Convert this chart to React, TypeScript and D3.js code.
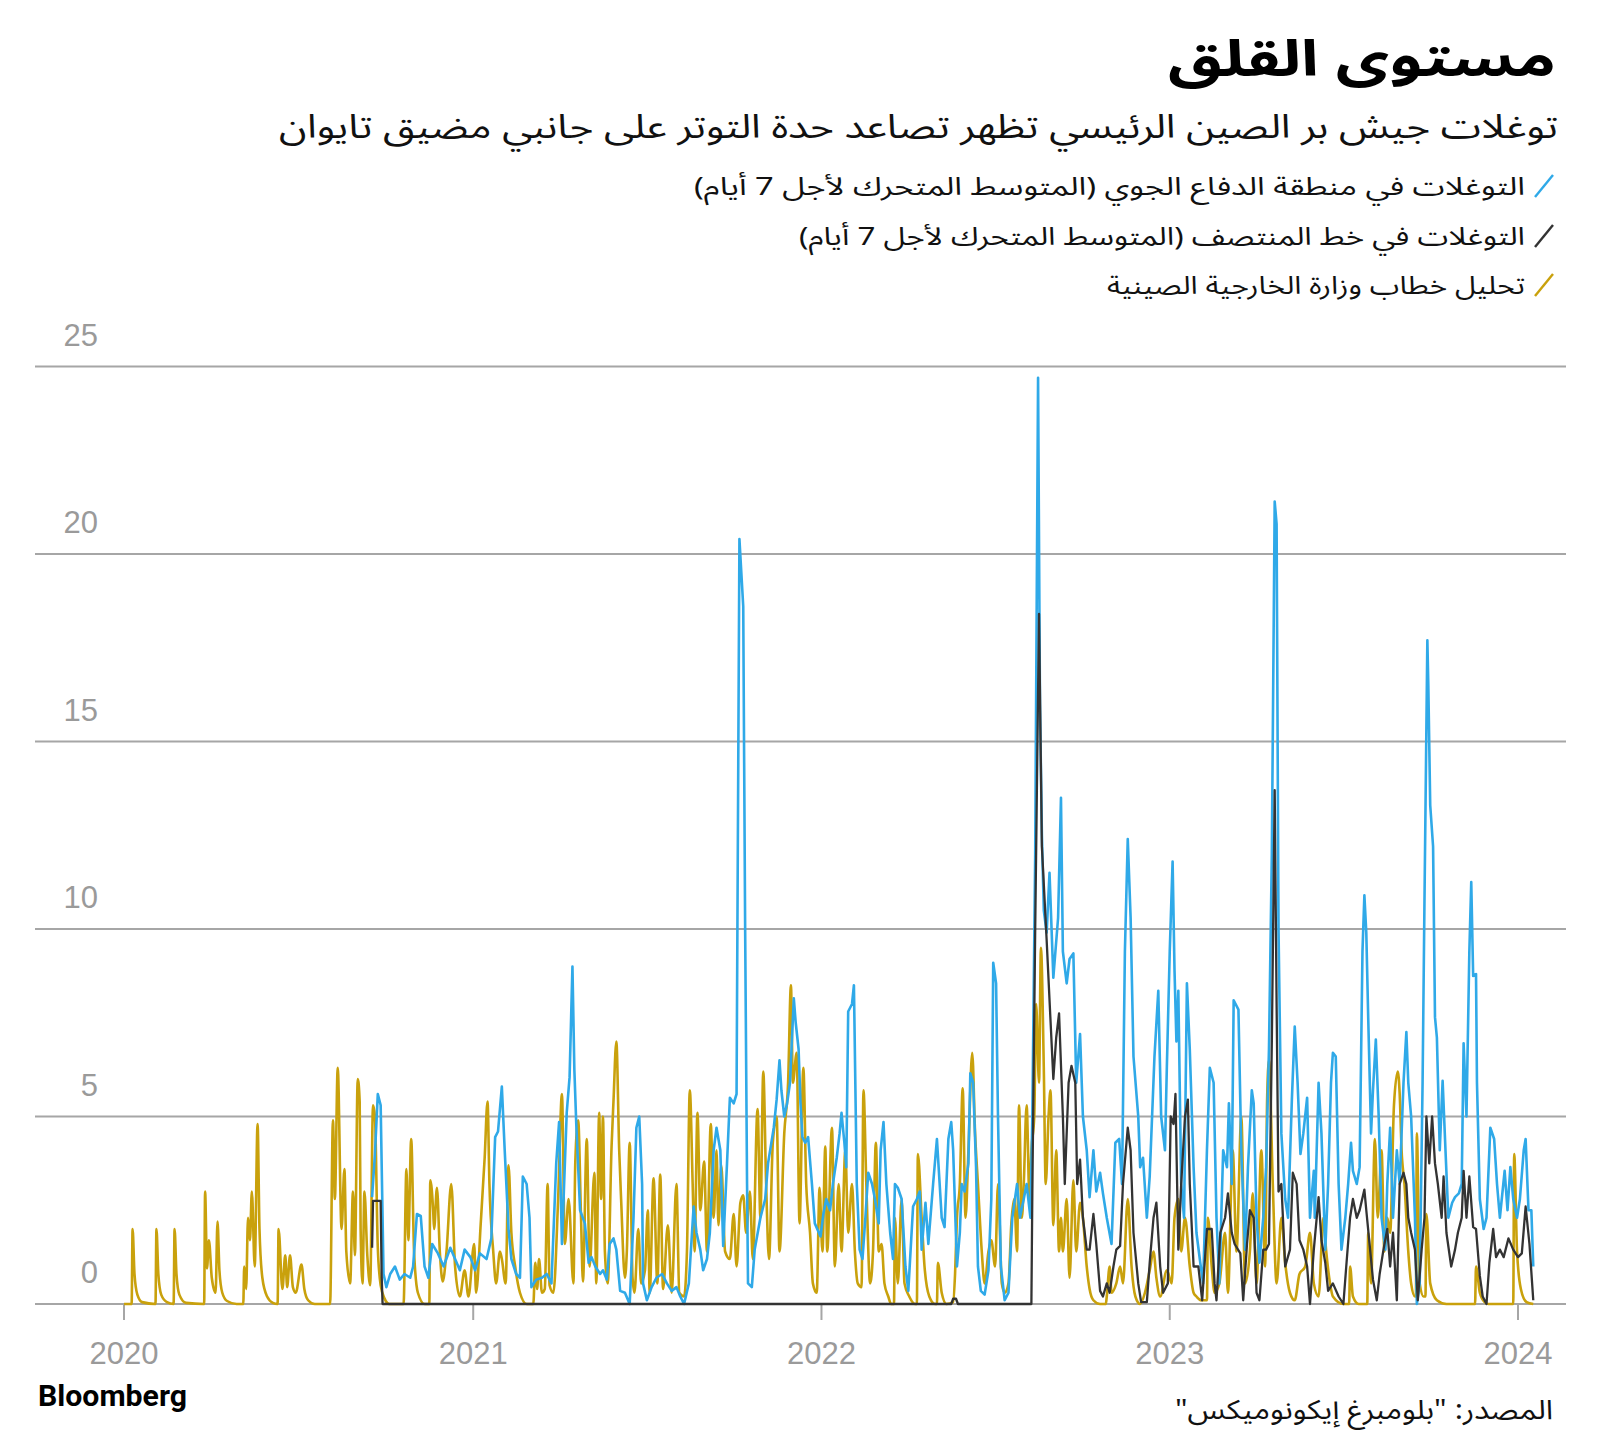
import React from 'react';
import * as d3 from 'd3';

// ---- Data (day offset from 2020-01-01, value) ----
const yearTicks = [2020, 2021, 2022, 2023, 2024];
const yTicks = [0, 5, 10, 15, 20, 25];

const seriesNames = [
  'التوغلات في منطقة الدفاع الجوي (المتوسط المتحرك لأجل 7 أيام)',
  'التوغلات في خط المنتصف (المتوسط المتحرك لأجل 7 أيام)',
  'تحليل خطاب وزارة الخارجية الصينية',
];

const speechSeries: [number, number][] = [
[0,0],[8,0],[9,2.0],[11,0.8],[14,0.25],[19,0.05],[33,0],[34,2.0],[36,0.8],[39,0.25],[45,0.05],[52,0],[53,2.0],[55,0.8],[58,0.25],[65,0.03],[84,0],[85,3.0],[87,0.95],[89,1.7],[92,0.7],[96,0.3],[98,2.2],[100,0.9],[103,0.3],[108,0.08],[118,0],[125,0],[126,1.0],[128,0.4],[130,2.3],[132,1.7],[134,3.0],[137,1.0],[140,4.8],[142,2.0],[145,0.7],[150,0.2],[156,0.03],[161,0],[162,2.0],[166,0.4],[169,1.3],[171,0.45],[174,1.3],[177,0.45],[180,0.3],[186,1.05],[189,0.4],[193,0.1],[200,0],[216,0],[219,4.9],[221,2.8],[224,6.3],[228,2.0],[231,3.6],[233,1.4],[237,0.55],[240,3.0],[242,1.3],[245,6.0],[247,5.4],[248,2.0],[250,0.55],[252,3.0],[255,1.3],[258,0.5],[261,5.3],[263,5.0],[266,1.5],[269,0.5],[273,0.15],[278,0],[293,0],[296,3.6],[298,1.7],[301,4.4],[304,1.4],[308,0.3],[315,0],[320,0],[321,3.3],[324,2.5],[325,2.0],[328,3.1],[331,1.4],[334,0.6],[338,1.4],[343,3.2],[347,1.0],[352,0.2],[357,0.9],[361,0.2],[367,1.6],[369,0.3],[374,2.2],[378,3.9],[381,5.4],[383,3.2],[387,1.4],[390,0.55],[394,1.4],[396,1.2],[400,0.55],[403,3.7],[406,1.9],[410,1.0],[415,0.3],[422,0],[429,0],[431,1.1],[433,0.4],[435,1.2],[438,0.3],[441,0.4],[444,3.2],[446,0.5],[450,0.3],[455,2.8],[459,5.6],[462,1.6],[466,2.8],[471,0.55],[473,3.8],[476,4.9],[479,2.3],[481,0.6],[485,4.4],[488,1.0],[493,3.5],[495,0.55],[498,5.1],[500,2.8],[502,5.0],[504,1.4],[507,0.55],[511,4.2],[513,5.4],[516,7.0],[519,4.1],[521,2.8],[525,0.7],[527,1.4],[530,4.3],[533,0.7],[535,0.3],[539,2.0],[542,0.55],[546,0.9],[549,2.5],[551,0.3],[555,3.35],[559,0.55],[562,3.45],[565,0.4],[570,2.1],[574,0.3],[579,3.2],[582,0.3],[587,0.2],[590,1.4],[593,5.7],[596,3.2],[598,1.4],[601,5.1],[604,2.5],[608,3.8],[611,1.4],[615,4.8],[618,2.3],[621,4.1],[623,2.1],[626,3.7],[630,1.4],[635,1.2],[639,2.4],[642,1.0],[646,2.7],[649,2.9],[652,1.9],[656,3.0],[659,1.2],[664,5.2],[667,2.3],[670,6.2],[673,3.2],[676,1.2],[680,4.3],[684,5.0],[687,1.4],[692,4.55],[696,5.9],[699,8.5],[701,5.9],[705,6.7],[708,2.15],[712,6.3],[715,3.2],[719,1.9],[722,0.55],[726,0.3],[729,3.1],[732,1.4],[735,4.2],[737,1.4],[742,4.7],[745,1.0],[749,3.2],[752,1.4],[756,4.1],[759,1.9],[763,3.2],[766,1.4],[769,0.55],[773,0.45],[775,5.7],[778,3.2],[782,0.55],[785,1.4],[788,4.3],[791,1.4],[794,1.6],[797,0.55],[801,0.2],[804,0],[807,0],[808,2.3],[811,0.55],[815,2.8],[818,0.55],[823,0.2],[829,0],[831,0],[832,4.0],[836,2.3],[839,1.0],[844,0.2],[850,0],[852,0],[853,1.1],[857,0.3],[862,0],[869,0.05],[871,0.8],[873,2.3],[876,3.2],[879,5.75],[882,2.3],[885,4.1],[889,6.7],[892,4.55],[895,3.2],[899,1.4],[902,0.55],[906,1.4],[909,1.7],[913,1.0],[916,3.2],[920,0.55],[923,0.3],[927,0.55],[930,2.15],[933,2.8],[936,1.4],[938,5.3],[941,2.3],[943,3.2],[946,5.3],[949,2.8],[951,4.1],[954,5.0],[956,8.0],[959,5.9],[961,9.5],[964,6.3],[966,3.2],[969,5.0],[971,5.7],[974,2.1],[977,4.1],[980,1.4],[982,2.3],[984,1.4],[988,2.8],[991,0.7],[995,3.3],[998,1.4],[1002,2.7],[1005,2.3],[1009,1.0],[1012,0.4],[1016,0.1],[1023,0],[1029,0],[1030,0.2],[1033,1.0],[1035,0.3],[1040,0.55],[1044,1.0],[1047,0.55],[1052,2.8],[1056,1.0],[1060,0.2],[1065,0],[1070,0.3],[1075,0.9],[1079,1.4],[1082,0.7],[1086,0.2],[1093,0.9],[1098,0.55],[1101,2.3],[1105,2.8],[1108,1.4],[1112,2.3],[1117,1.0],[1121,0.3],[1124,0.2],[1129,0.1],[1135,0.1],[1136,2.3],[1140,1.0],[1143,0.3],[1148,0.55],[1154,1.9],[1157,0.3],[1162,4.1],[1166,1.4],[1171,5.0],[1175,0.55],[1180,1.4],[1183,2.95],[1187,0.55],[1192,4.1],[1196,1.0],[1198,5.4],[1200,6.5],[1204,3.2],[1208,0.55],[1213,2.3],[1217,1.1],[1222,0.3],[1227,0.1],[1232,0.8],[1238,1.0],[1243,1.9],[1247,0.55],[1252,0.2],[1257,2.3],[1260,1.4],[1264,0.55],[1267,0.2],[1278,0],[1284,0],[1285,1.0],[1288,0.2],[1294,0],[1303,0],[1304,1.9],[1307,0.55],[1311,4.4],[1314,2.3],[1318,4.1],[1321,1.4],[1324,2.3],[1327,1.9],[1331,5.3],[1335,6.2],[1337,5.6],[1339,4.1],[1342,3.2],[1346,1.4],[1349,0.55],[1353,0.2],[1354,0.2],[1355,4.55],[1358,0.55],[1362,0.2],[1364,0.2],[1365,2.4],[1369,0.55],[1376,0.1],[1386,0],[1416,0],[1417,1.0],[1421,0.3],[1426,0.05],[1430,0],[1456,0],[1457,4.0],[1460,1.4],[1464,0.4],[1470,0.05],[1477,0]
];

const adizSeries: [number, number][] = [
[260,2.85],[263,4.0],[266,5.6],[269,5.3],[272,0.8],[275,0.45],[279,0.8],[284,1.0],[289,0.65],[294,0.8],[300,0.7],[303,1.0],[307,2.4],[311,2.35],[315,1.0],[319,0.7],[323,1.6],[329,1.35],[335,1.0],[342,1.5],[347,1.2],[352,0.9],[357,1.45],[363,1.25],[368,0.9],[373,1.35],[380,1.2],[385,1.75],[389,4.45],[392,4.6],[396,5.8],[399,4.1],[403,2.0],[406,1.2],[411,0.8],[415,0.7],[418,3.4],[422,3.2],[425,2.3],[427,0.45],[432,0.65],[438,0.7],[443,0.8],[448,0.55],[453,3.75],[456,4.85],[459,1.6],[461,3.0],[464,5.1],[467,6.05],[470,9.0],[472,6.25],[474,4.8],[478,2.5],[483,2.15],[487,1.1],[490,1.25],[494,1.0],[499,0.8],[502,0.9],[506,0.65],[509,1.6],[513,1.75],[516,1.45],[520,0.35],[525,0.3],[530,0],[534,2.3],[537,4.7],[540,5.0],[543,3.2],[544,0.55],[548,0.1],[553,0.45],[558,0.7],[564,0.8],[569,0.55],[574,0.35],[579,0.45],[583,0.2],[587,0],[592,0.55],[597,2.6],[600,1.9],[604,1.45],[607,0.9],[611,1.2],[614,1.9],[618,4.1],[621,4.7],[625,4.1],[628,1.55],[632,3.75],[635,5.5],[639,5.35],[642,5.6],[645,20.4],[647,19.5],[649,18.6],[651,10],[653,3.2],[654,0.55],[658,0.45],[661,1.45],[667,2.3],[672,2.8],[675,3.75],[681,4.7],[684,5.45],[687,6.5],[689,5.7],[692,5.0],[695,5.35],[698,5.9],[702,8.15],[704,7.5],[707,6.8],[709,5.35],[711,4.45],[714,4.3],[717,4.45],[721,3.2],[724,2.15],[730,1.8],[733,2.4],[736,2.8],[740,2.5],[743,3.2],[747,3.9],[750,4.55],[752,5.1],[755,4.3],[757,3.65],[759,7.8],[763,8.0],[765,8.5],[768,3.2],[771,1.45],[774,1.2],[777,2.3],[780,3.5],[784,3.2],[787,2.8],[791,2.15],[793,4.1],[796,4.85],[799,3.2],[803,1.9],[806,1.2],[808,3.2],[811,3.1],[815,2.8],[819,1.0],[822,0.35],[827,2.6],[831,2.8],[834,3.0],[836,1.45],[840,2.7],[843,1.6],[848,3.2],[852,4.4],[857,2.3],[860,2.05],[864,4.4],[867,4.85],[869,4.1],[873,1.0],[876,1.9],[878,3.2],[881,3.0],[885,3.75],[887,6.15],[890,5.9],[893,3.65],[895,1.0],[898,0.35],[902,0.25],[906,0.9],[909,2.8],[911,9.1],[914,8.55],[916,5.0],[919,1.0],[923,0.1],[927,0.3],[931,2.3],[936,3.2],[939,2.3],[943,2.8],[946,3.2],[950,2.3],[952,5.0],[955,12.0],[958,24.7],[960,16.0],[962,12.5],[964,10.5],[967,9.9],[970,11.5],[974,8.7],[979,10.3],[982,13.5],[984,9.4],[988,8.55],[991,9.2],[995,9.35],[998,5.9],[1002,7.2],[1005,5.0],[1009,4.1],[1012,2.85],[1016,4.1],[1019,3.0],[1023,3.5],[1026,2.95],[1030,2.3],[1035,1.6],[1039,4.3],[1043,4.4],[1046,3.2],[1049,9.4],[1052,12.4],[1055,10.3],[1058,6.6],[1063,5.0],[1065,3.65],[1068,3.9],[1072,2.3],[1075,3.4],[1080,6.6],[1084,8.35],[1087,5.0],[1091,4.1],[1093,6.35],[1096,9.4],[1099,11.8],[1101,8.9],[1103,7.0],[1105,8.35],[1108,3.2],[1111,2.3],[1114,8.55],[1117,6.8],[1121,3.65],[1124,1.9],[1128,1.1],[1131,0.55],[1135,4.1],[1138,6.3],[1142,5.9],[1145,2.3],[1148,0.55],[1152,4.1],[1156,3.65],[1158,5.35],[1161,3.2],[1163,8.1],[1168,7.85],[1171,4.1],[1175,1.45],[1178,3.65],[1182,5.7],[1184,5.35],[1187,2.3],[1190,1.1],[1194,2.3],[1197,3.65],[1200,6.8],[1203,12.0],[1206,21.4],[1208,20.8],[1210,10.0],[1213,4.55],[1217,2.8],[1220,2.3],[1224,5.45],[1227,7.4],[1230,5.9],[1233,4.0],[1236,4.55],[1240,5.5],[1243,2.3],[1247,3.55],[1248,2.3],[1252,5.9],[1255,4.55],[1259,1.45],[1262,3.2],[1265,5.9],[1267,6.7],[1270,6.6],[1273,3.2],[1276,1.45],[1280,2.3],[1283,3.2],[1286,4.3],[1288,3.55],[1292,3.2],[1295,3.65],[1298,9.4],[1300,10.9],[1302,9.9],[1304,7.65],[1307,4.55],[1309,5.7],[1312,7.05],[1315,5.0],[1318,2.3],[1322,1.45],[1324,3.2],[1327,4.7],[1330,2.3],[1334,4.1],[1337,3.2],[1341,5.9],[1344,7.25],[1346,5.9],[1349,5.0],[1353,2.3],[1355,0],[1358,0.55],[1361,5.9],[1363,10.8],[1366,17.7],[1367,16.5],[1369,13.3],[1372,12.2],[1374,7.65],[1376,7.1],[1379,4.1],[1382,5.95],[1385,4.1],[1388,2.3],[1392,2.7],[1395,2.85],[1399,2.95],[1402,3.2],[1404,6.95],[1407,5.0],[1410,9.4],[1412,11.25],[1414,8.75],[1417,8.8],[1418,5.9],[1421,2.8],[1425,2.0],[1428,2.3],[1432,4.7],[1436,4.4],[1439,3.2],[1442,2.3],[1447,3.55],[1450,2.5],[1453,3.65],[1456,2.8],[1460,2.3],[1463,2.8],[1467,4.1],[1469,4.4],[1472,2.5],[1475,2.5],[1477,1.0]
];

const medianSeries: [number, number][] = [
[260,1.5],[261,2.75],[269,2.75],[270,0.8],[271,0],[867,0],[869,0.14],[872,0.14],[874,0],[951,0],[952,3.0],[955,10.0],[959,18.4],[962,12.2],[967,9.7],[974,6.0],[977,7.1],[980,7.75],[984,5.0],[986,3.2],[990,5.9],[993,6.35],[997,5.9],[999,3.2],[1002,3.85],[1005,2.3],[1009,1.45],[1012,1.45],[1016,2.4],[1019,1.6],[1023,0.35],[1026,0.2],[1030,0.55],[1033,0.3],[1037,1.0],[1040,1.45],[1044,1.55],[1047,3.2],[1052,4.7],[1055,4.1],[1058,1.9],[1063,0.55],[1066,0.05],[1072,0.05],[1075,1.1],[1079,2.3],[1082,2.7],[1086,1.0],[1089,0.3],[1094,0.55],[1097,5.0],[1100,4.8],[1102,5.6],[1105,1.45],[1108,3.2],[1112,5.0],[1115,5.45],[1117,3.2],[1121,1.0],[1126,1.0],[1130,0.1],[1135,2.0],[1140,2.0],[1143,0.55],[1145,0.1],[1149,1.9],[1154,2.3],[1157,2.95],[1161,1.9],[1164,1.6],[1170,1.35],[1173,0.1],[1177,1.6],[1180,2.5],[1184,2.3],[1187,0.3],[1190,0.1],[1194,1.45],[1197,1.45],[1200,1.6],[1203,7.0],[1206,13.7],[1208,8.0],[1210,3.0],[1213,3.2],[1217,1.0],[1222,1.45],[1225,3.5],[1229,3.2],[1232,1.7],[1236,1.45],[1240,1.0],[1243,0],[1247,1.45],[1252,2.85],[1255,1.7],[1259,1.1],[1262,0.35],[1267,0.55],[1273,0.2],[1278,0],[1281,1.0],[1285,2.3],[1288,2.8],[1292,2.3],[1295,2.5],[1300,3.05],[1302,2.5],[1306,1.45],[1309,0.65],[1313,0.1],[1316,0.8],[1320,1.45],[1324,2.0],[1327,1.0],[1330,1.9],[1334,0.1],[1337,3.2],[1341,3.5],[1344,3.2],[1346,2.3],[1349,1.9],[1353,1.45],[1356,0.1],[1360,1.45],[1363,2.3],[1365,5.0],[1368,3.75],[1371,5.0],[1374,3.75],[1377,3.2],[1381,2.3],[1383,3.4],[1386,1.9],[1391,1.0],[1395,1.45],[1398,1.9],[1402,2.3],[1404,3.55],[1407,2.3],[1410,3.4],[1414,2.05],[1417,2.0],[1421,0.75],[1424,0.2],[1428,0],[1431,1.1],[1435,2.0],[1438,1.25],[1442,1.45],[1446,1.25],[1451,1.75],[1456,1.45],[1461,1.25],[1465,1.35],[1469,2.6],[1473,1.6],[1477,0.1]
];

const BLUE = '#2fa9e8';
const BLACK = '#333333';
const GOLD = '#c9a10c';
const GRID = '#a6a6a6';
const LABEL = '#9a9a9a';
const AR_FONT = '"Noto Sans Arabic", "DejaVu Sans", sans-serif';
const NUM_FONT = '"Liberation Sans", Arial, sans-serif';

const START = Date.UTC(2020, 0, 1);
const toDate = (d: number) => new Date(START + d * 86400000);

export default function App() {
  const W = 1600, H = 1442;
  const x = d3.scaleUtc()
    .domain([new Date(Date.UTC(2020, 0, 1)), new Date(Date.UTC(2024, 0, 1))])
    .range([124, 1518]);
  const y = d3.scaleLinear().domain([0, 25]).range([1304, 366.5]);
  const lineLin = d3.line<[number, number]>()
    .x(p => x(toDate(p[0])))
    .y(p => y(p[1]));
  const lineSmooth = d3.line<[number, number]>()
    .x(p => x(toDate(p[0])))
    .y(p => y(p[1]))
    .curve(d3.curveMonotoneX);

  const gridX0 = 35, gridX1 = 1566;
  const legendRows = [
    { name: seriesNames[0], color: BLUE, yb: 195, len: 831 },
    { name: seriesNames[1], color: BLACK, yb: 245, len: 726 },
    { name: seriesNames[2], color: GOLD, yb: 294, len: 418 },
  ];

  return (
    <svg width={W} height={H} style={{ position: 'absolute', left: 0, top: 0, background: '#fff' }}>
      <rect x={0} y={0} width={W} height={H} fill="#fff" />
      {/* Title */}
      <text x={1556} y={76} fontFamily={AR_FONT} fontWeight="bold" fontSize={50}
        style={{ direction: 'rtl' }} textAnchor="start" fill="#000"
        textLength={388} lengthAdjust="spacingAndGlyphs">مستوى القلق</text>
      <text x={1558} y={138} fontFamily={AR_FONT} fontSize={33}
        style={{ direction: 'rtl' }} textAnchor="start" fill="#111"
        textLength={1279} lengthAdjust="spacingAndGlyphs">توغلات جيش بر الصين الرئيسي تظهر تصاعد حدة التوتر على جانبي مضيق تايوان</text>

      {/* Legend */}
      {legendRows.map((r, i) => (
        <g key={i}>
          <line x1={1535} y1={r.yb + 2} x2={1553} y2={r.yb - 20} stroke={r.color} strokeWidth={2.4} />
          <text x={1525} y={r.yb} fontFamily={AR_FONT} fontSize={25}
            style={{ direction: 'rtl' }} textAnchor="start" fill="#111"
            textLength={r.len} lengthAdjust="spacingAndGlyphs">{r.name}</text>
        </g>
      ))}

      {/* Grid */}
      {yTicks.map(v => (
        <g key={v}>
          <line x1={gridX0} x2={gridX1} y1={y(v)} y2={y(v)} stroke={GRID} strokeWidth={2} />
          <text x={98} y={y(v) - 21} textAnchor="end" fontFamily={NUM_FONT} fontSize={31} fill={LABEL}>{v}</text>
        </g>
      ))}

      {/* X ticks */}
      {yearTicks.map(yr => {
        const xp = x(new Date(Date.UTC(yr, 0, 1)));
        return (
          <g key={yr}>
            <line x1={xp} x2={xp} y1={y(0)} y2={y(0) + 16} stroke={GRID} strokeWidth={2} />
            <text x={xp} y={1364} textAnchor="middle" fontFamily={NUM_FONT} fontSize={31} fill={LABEL}>{yr}</text>
          </g>
        );
      })}

      {/* Series */}
      <path d={lineSmooth(speechSeries) || ''} fill="none" stroke={GOLD} strokeWidth={2.6} strokeLinejoin="round" />
      <path d={lineLin(adizSeries) || ''} fill="none" stroke={BLUE} strokeWidth={2.6} strokeLinejoin="round" />
      <path d={lineLin(medianSeries) || ''} fill="none" stroke={BLACK} strokeWidth={2.3} strokeLinejoin="round" />

      {/* Footer */}
      <text x={38} y={1406} fontFamily='Roboto, "Liberation Sans", sans-serif' fontWeight="bold" fontSize={29} fill="#000"
        textLength={149} lengthAdjust="spacingAndGlyphs">Bloomberg</text>
      <text x={1553} y={1419} fontFamily={AR_FONT} fontSize={27}
        style={{ direction: 'rtl' }} textAnchor="start" fill="#111"
        textLength={378} lengthAdjust="spacingAndGlyphs">المصدر: "بلومبرغ إيكونوميكس"</text>
    </svg>
  );
}
